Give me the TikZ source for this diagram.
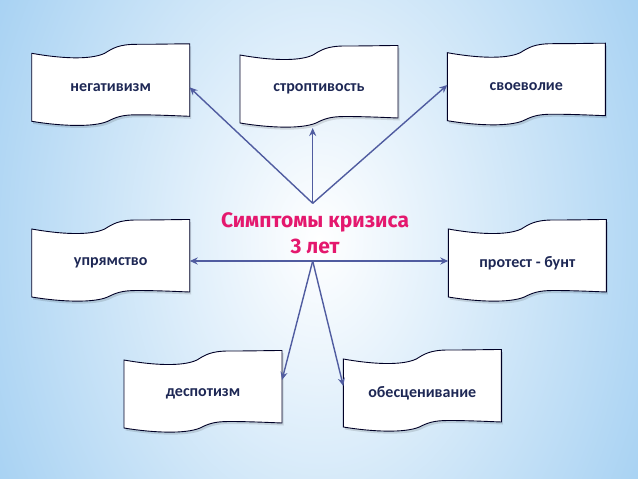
\documentclass[tikz,border=0pt]{standalone}
\usepackage{fontspec}
\setmainfont{Carlito}
\newfontfamily\titlefont{Fira Sans}
\usetikzlibrary{arrows.meta}
\definecolor{bgblue}{RGB}{164,208,242}
\definecolor{arrowc}{RGB}{80,92,160}
\definecolor{txtc}{RGB}{30,40,85}
\definecolor{titlec}{RGB}{228,24,110}
\newcommand\tapepath{(0,0) .. controls (28,5) and (58,7) .. (73,0) .. controls (81,-5) and (87,-9) .. (105,-9) .. controls (130,-9) and (145,-9.5) .. (158,-9.5) -- (158,63) .. controls (145,62.5) and (125,61.5) .. (105,61.5) .. controls (90,61.5) and (84,64) .. (76,68) .. controls (62,74) and (30,73) .. (0,68) -- cycle}
\newcommand\tapebox[4]{%
  \begin{scope}[shift={(#2,#3)}]
    \path[fill=black, opacity=0.12, shift={(1.5,2.5)}] \tapepath;
    \path[tapestyle] \tapepath;
  \end{scope}
  \node[lbl] (#1) at (#2+79,#3+34) {#4};
}
\tikzset{
  tapestyle/.style={draw=black!85!blue, fill=white, line width=0.9pt},
  lbl/.style={font=\bfseries\fontsize{16}{18}\selectfont, text=txtc, inner sep=0pt},
  ttl/.style={font=\titlefont\bfseries\fontsize{21}{26}\selectfont, text=titlec, align=center, inner sep=0pt},
  conn/.style={draw=arrowc, line width=1.4pt, -{Stealth[length=8pt,width=7pt]}},
  conn2/.style={draw=arrowc, line width=1.4pt, {Stealth[length=8pt,width=7pt]}-{Stealth[length=8pt,width=7pt]}}
}
\begin{document}
\begin{tikzpicture}[x=1pt,y=-1pt]
\useasboundingbox (0,0) rectangle (638,479);
\fill[bgblue] (0,0) rectangle (638,479);
\begin{scope}
  \clip (0,0) rectangle (638,479);
  \shade[inner color=white, outer color=bgblue] (319,240) ellipse [x radius=380pt, y radius=540pt];
\end{scope}

\tapebox{neg}{31.7}{53.3}{негативизм}
\tapebox{stro}{240}{55}{строптивость}
\tapebox{svo}{447.3}{52.7}{своеволие}
\tapebox{upr}{31.7}{229}{упрямство}
\tapebox{prot}{448.3}{229}{протест - бунт}
\tapebox{desp}{124}{360}{деспотизм}
\tapebox{obes}{343.3}{359}{обесценивание}

\node[ttl] (title) at (315,233) {Симптомы кризиса\\3 лет};

\coordinate (hubT) at (312.7,203.3);
\coordinate (hubB) at (312.7,261);
\coordinate (tNeg) at (189.5,87.3);
\coordinate (tStro) at (312.7,128);
\coordinate (tSvo) at (447.3,85);
\coordinate (tUpr) at (189.7,261);
\coordinate (tProt) at (448.3,261);
\coordinate (tDesp) at (282,380);
\coordinate (tObes) at (343.3,386);

\draw[conn] (hubT) -- (tNeg);
\draw[conn] (hubT) -- (tStro);
\draw[conn] (hubT) -- (tSvo);
\draw[conn2] (tUpr) -- (tProt);
\draw[conn] (hubB) -- (tDesp);
\draw[conn] (hubB) -- (tObes);
\end{tikzpicture}
\end{document}
